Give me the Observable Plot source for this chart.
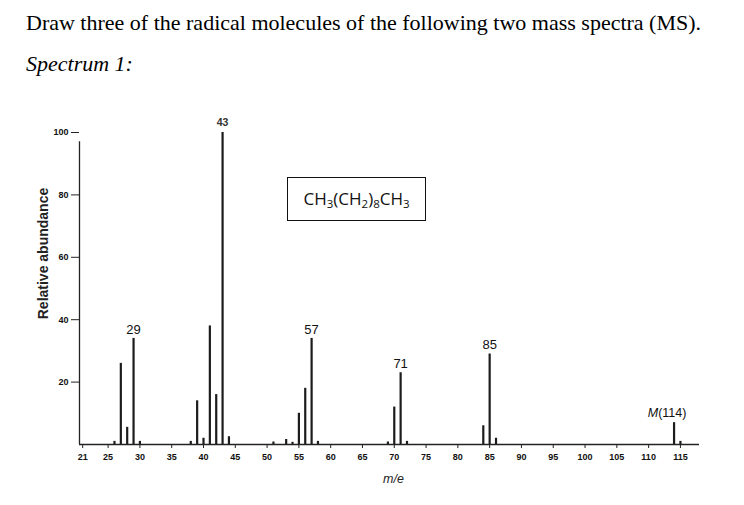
<!DOCTYPE html>
<html>
<head>
<meta charset="utf-8">
<script src="https://cdn.jsdelivr.net/npm/d3@7"></script>
<script src="https://cdn.jsdelivr.net/npm/@observablehq/plot@0.6"></script>
<style>
  html, body { margin: 0; padding: 0; background: #fff; }
  #wrap { position: relative; width: 744px; height: 505px; overflow: hidden; }
  #head { position: relative; height: 100px; }
  .title { position: absolute; left: 26px; top: 11.5px; font-family: "Liberation Serif", "Times New Roman", serif; font-size: 22px; line-height: 22px; color: #000; white-space: nowrap; }
  .sub { position: absolute; left: 26px; top: 52.5px; font-family: "Liberation Serif", "Times New Roman", serif; font-style: italic; font-size: 22px; line-height: 22px; color: #000; white-space: nowrap; }
  #box { position: absolute; left: 287px; top: 177px; width: 137px; height: 42px; border: 1.5px solid #111; font-family: "Open Sans", "Liberation Sans", sans-serif; font-size: 17px; line-height: 42px; text-align: center; color: #111; }
  #box sub { font-size: 11.5px; vertical-align: -3px; line-height: 0; }
  svg { display: block; }
</style>
</head>
<body>
<div id="wrap">
  <div id="head">
    <div class="title">Draw three of the radical molecules of the following two mass spectra (MS).</div>
    <div class="sub">Spectrum 1:</div>
  </div>
  <div id="chart"></div>
  <div id="box">CH<sub>3</sub>(CH<sub>2</sub>)<sub>8</sub>CH<sub>3</sub></div>
</div>
<script>
// m/e values and relative abundances
const mz =        [26, 27, 28,  29, 30, 38, 39, 40, 41, 42, 43,  44,  51,  53,  54,  55, 56, 57, 58, 69,  70, 71, 72, 84, 85, 86, 114, 115];
const abundance = [1,  26, 5.5, 34, 1,  1,  14, 2,  38, 16, 100, 2.5, 0.8, 1.6, 0.7, 10, 18, 34, 1,  0.8, 12, 23, 1,  6,  29, 2,  7,   1];

// labelled peaks
const labelMz   = [29, 57, 71, 85];
const labelText = ["29", "57", "71", "85"];
const basePeakMz = [43];
const basePeakText = ["43"];
const molIonMz = [114];
const molIonText = ["M(114)"];

// axis ticks
const xTicks = [21, 25, 30, 35, 40, 45, 50, 55, 60, 65, 70, 75, 80, 85, 90, 95, 100, 105, 110, 115];
const yTicks = [20, 40, 60, 80, 100];
const xTitle = "m/e";
const yTitle = "Relative abundance";

const peaks = mz.map((m, i) => ({mz: m, ab: abundance[i]}));
const abOf = m => abundance[mz.indexOf(m)];
const labels = labelMz.map((m, i) => ({mz: m, ab: abOf(m), text: labelText[i]}));
const baseLab = basePeakMz.map((m, i) => ({mz: m, ab: abOf(m), text: basePeakText[i]}));
const molLab = molIonMz.map((m, i) => ({mz: m, ab: abOf(m), text: molIonText[i]}));

const xDomain = [20.5, 118];

const plot = Plot.plot({
  width: 744,
  height: 405,
  marginLeft: 79,
  marginRight: 45,
  marginTop: 32,
  marginBottom: 61,
  x: {domain: xDomain},
  y: {domain: [0, 100]},
  style: {fontFamily: "'Liberation Sans', Arial, sans-serif", color: "#111", background: "#fff"},
  marks: [
    Plot.ruleX([xDomain[0]], {y1: 0, y2: 97, stroke: "#222", strokeWidth: 1.3}),
    Plot.axisY({ticks: yTicks, tickSize: 8, tickPadding: 3, fontSize: 9, fontWeight: "bold", label: null, stroke: "#222"}),
    Plot.axisX({ticks: xTicks, tickSize: 4, tickPadding: 5, fontSize: 9, fontWeight: "bold", label: null, stroke: "#222"}),
    Plot.ruleY([0], {stroke: "#222", strokeWidth: 1.3}),
    Plot.ruleX(peaks, {x: "mz", y1: 0, y2: "ab", stroke: "#1c1c1c", strokeWidth: 2.2}),
    Plot.text(labels, {x: "mz", y: "ab", text: "text", dy: -9, fontSize: 13, fill: "#111"}),
    Plot.text(baseLab, {x: "mz", y: "ab", text: "text", dy: -10, fontSize: 10.5, fontWeight: "bold", fill: "#333"}),
    Plot.text(molLab, {x: "mz", y: "ab", text: "text", dx: -7, dy: -10, fontSize: 12.5, fill: "#111"}),
    Plot.text([xTitle], {frameAnchor: "bottom", dx: 4, dy: 38, fontSize: 12.5, fontStyle: "italic", fill: "#222"}),
    Plot.text([yTitle], {frameAnchor: "left", textAnchor: "middle", rotate: -90, dx: -36, dy: -35, fontSize: 14, fontWeight: "bold", fill: "#222"})
  ]
});

document.getElementById("chart").appendChild(plot);

// italic M in the molecular-ion label
d3.select(plot).selectAll("text").filter(function () { return this.textContent === "M(114)"; })
  .each(function () {
    const t = d3.select(this);
    t.text(null);
    t.append("tspan").attr("font-style", "italic").text("M");
    t.append("tspan").text("(114)");
  });
</script>
</body>
</html>
